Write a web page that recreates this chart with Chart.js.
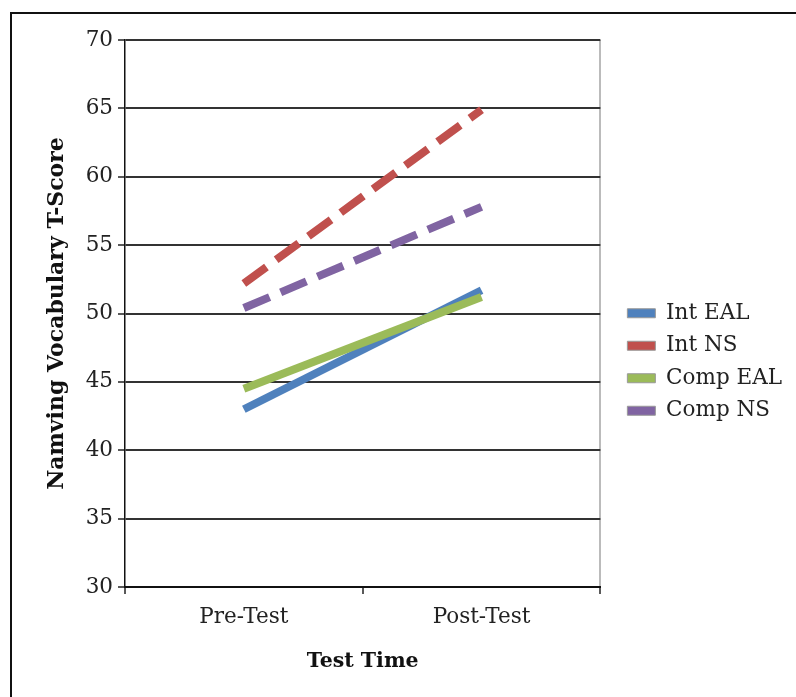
<!DOCTYPE html>
<html lang="en">
<head>
    <meta charset="UTF-8">
    <title>Namving Vocabulary T-Score</title>
    <script src="https://cdn.jsdelivr.net/npm/chart.js"></script>
    <style>
        html, body { margin: 0; padding: 0; background: #fff; overflow: hidden; }
        #frame {
            position: absolute; left: 10px; top: 12px; width: 900px; height: 800px;
            border-top: 2px solid #111; border-left: 2px solid #111;
        }
        #wrap { position: absolute; left: 0; top: 0; width: 796px; height: 697px; }
    </style>
</head>
<body>
    <div id="frame"></div>
    <div id="wrap"><canvas id="scoreChart"></canvas></div>

    <script>
        // categories and series
        const testTimes = ["Pre-Test", "Post-Test"];
        const intEAL = [43.0, 51.7];
        const intNS = [52.2, 64.9];
        const compEAL = [44.5, 51.2];
        const compNS = [50.4, 57.8];
        const yTicks = [30, 35, 40, 45, 50, 55, 60, 65, 70];

        const FONT = "'DejaVu Serif', 'Liberation Serif', serif";

        const makeSet = (label, data, color, dashed, order) => ({
            label: label,
            data: data,
            borderColor: color,
            backgroundColor: color,
            borderWidth: 8,
            borderDash: dashed ? [28, 12] : [],
            pointRadius: 0,
            tension: 0,
            fill: false,
            order: order
        });

        // leave a small gap between the plot and the legend
        const legendGap = {
            id: 'legendGap',
            afterLayout(chart) {
                const lg = chart.legend;
                lg.left += 16; lg.right += 16;
                lg.top += 2; lg.bottom += 2;
            }
        };

        document.addEventListener("DOMContentLoaded", () => {
            const ctx = document.getElementById('scoreChart').getContext('2d');
            new Chart(ctx, {
                type: 'line',
                data: {
                    labels: testTimes,
                    datasets: [
                        makeSet("Int EAL", intEAL, '#4F81BD', false, 4),
                        makeSet("Int NS", intNS, '#C0504D', true, 3),
                        makeSet("Comp EAL", compEAL, '#9BBB59', false, 2),
                        makeSet("Comp NS", compNS, '#8064A2', true, 1)
                    ]
                },
                plugins: [legendGap],
                options: {
                    responsive: true,
                    maintainAspectRatio: false,
                    animation: false,
                    layout: { padding: { top: 40, bottom: 17, left: 0, right: 20 } },
                    plugins: {
                        tooltip: { enabled: false },
                        legend: {
                            position: 'right',
                            labels: {
                                font: { family: FONT, size: 21.5 },
                                color: '#222',
                                boxWidth: 28,
                                boxHeight: 9,
                                padding: 11,
                                generateLabels: (chart) => chart.data.datasets.map((ds, i) => ({
                                    text: ds.label,
                                    fillStyle: ds.borderColor,
                                    strokeStyle: '#999',
                                    lineWidth: 1,
                                    lineDash: [],
                                    fontColor: '#222',
                                    datasetIndex: i
                                }))
                            }
                        }
                    },
                    scales: {
                        x: {
                            offset: true,
                            afterFit: (scale) => { scale.height = 93; },
                            grid: {
                                offset: true,
                                drawOnChartArea: true,
                                // only the closing line on the right side is shown (light grey)
                                color: (c) => c.type === 'scale' ? '#bbb' : 'rgba(0,0,0,0)',
                                lineWidth: 2,
                                tickColor: '#222',
                                tickLength: 7,
                                tickWidth: 1.5
                            },
                            border: { color: '#111', width: 2 },
                            ticks: { font: { family: FONT, size: 21.5 }, color: '#222', padding: 11 },
                            title: {
                                display: true,
                                text: 'Test Time',
                                font: { family: FONT, size: 20.5, weight: 'bold' },
                                color: '#111',
                                padding: { top: 0, bottom: 6 }
                            }
                        },
                        y: {
                            min: 30,
                            max: 70,
                            afterFit: (scale) => { scale.width = 125; },
                            afterBuildTicks: (scale) => { scale.ticks = yTicks.map(v => ({ value: v })); },
                            grid: {
                                color: '#333',
                                lineWidth: 2,
                                tickColor: '#222',
                                tickLength: 7,
                                tickWidth: 1.5
                            },
                            border: { color: '#111', width: 1.5 },
                            ticks: { font: { family: FONT, size: 21.5 }, color: '#222', padding: 5 },
                            title: {
                                display: true,
                                text: 'Namving Vocabulary T-Score',
                                font: { family: FONT, size: 22, weight: 'bold' },
                                color: '#111',
                                padding: { top: 44, bottom: 0 }
                            }
                        }
                    }
                }
            });
        });
    </script>
</body>
</html>
